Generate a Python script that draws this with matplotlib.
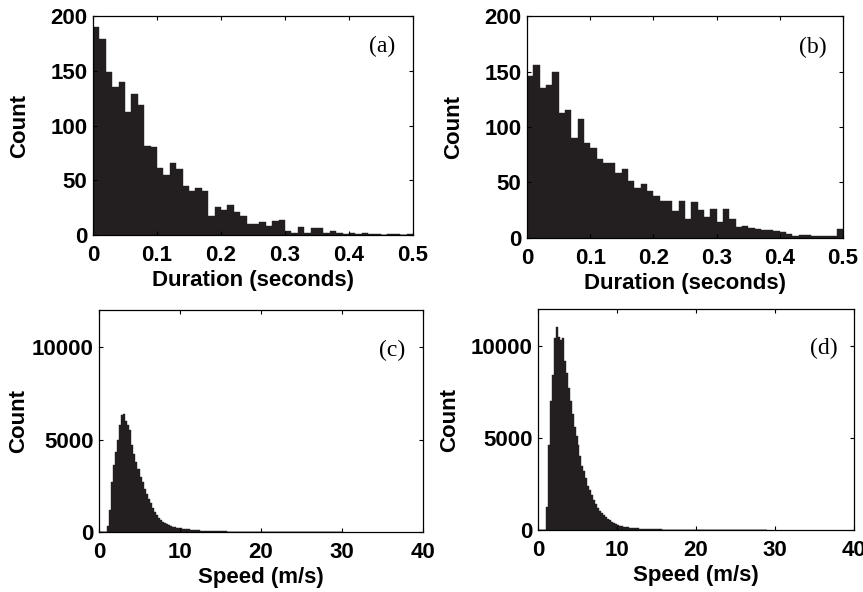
import numpy as np
import matplotlib.pyplot as plt

# histogram counts
dur_edges = np.linspace(0, 0.5, 51)   # 0.01 s bins
a_counts = [190, 179, 149, 135, 140, 112, 129, 119, 81, 80,
            61, 55, 66, 60, 45, 40, 43, 40, 17, 26,
            23, 27, 21, 17, 10, 10, 12, 8, 13, 14,
            4, 2, 7, 2, 6, 6, 2, 4, 2, 1,
            2, 1, 2, 1, 1, 0, 1, 1, 0, 1]
b_counts = [146, 156, 135, 138, 150, 113, 115, 90, 107, 86,
            81, 71, 68, 68, 59, 62, 51, 45, 49, 42,
            38, 33, 33, 24, 33, 17, 32, 25, 19, 26,
            14, 26, 17, 10, 11, 9, 8, 7, 7, 6,
            5, 4, 2, 3, 3, 2, 2, 2, 1.5, 8]

# speed histograms, 0.25 m/s bins starting at 0
c_counts = [0, 0, 0, 0,
            300, 1200, 2700, 3600, 4300, 5000, 5800, 6300,
            6400, 6000, 5800, 5500, 4700, 4200, 3800, 3400,
            3000, 2700, 2350, 2050, 1800, 1550, 1300, 1100,
            920, 780, 650, 560, 480, 420, 370, 330,
            290, 260, 240, 220, 200, 180, 165, 150,
            140, 125, 115, 105, 95, 88, 80, 74,
            68, 62, 57, 52, 48, 44, 40, 37,
            34, 31, 29, 27, 25, 23, 21, 20,
            18, 17, 16, 15, 14, 13, 12, 11,
            10, 10, 9, 9, 8, 8, 7, 7,
            6, 6, 6, 5, 5, 5, 4, 4,
            4, 4, 3, 3, 3, 3, 2, 2,
            2, 2, 2, 2, 1, 1, 1, 1,
            1, 1, 1, 1, 1, 1, 0, 1,
            0, 1, 0, 0]
d_counts = [0, 0, 0, 0,
            1250, 4600, 7000, 8400, 10400, 11000, 10500, 10300,
            10400, 9200, 8500, 7700, 7000, 6300, 5600, 5100,
            4600, 4000, 3500, 3200, 2800, 2400, 2150, 1900,
            1650, 1400, 1200, 1050, 930, 820, 700, 620,
            520, 450, 380, 320, 280, 240, 210, 185,
            165, 145, 130, 118, 106, 96, 87, 80,
            72, 66, 60, 55, 50, 46, 42, 38,
            35, 32, 29, 27, 25, 23, 21, 19,
            17, 16, 15, 14, 13, 12, 11, 10,
            9, 9, 8, 8, 7, 7, 6, 6,
            5, 5, 5, 4, 4, 4, 3, 3,
            3, 3, 3, 2, 2, 2, 2, 2,
            1, 1, 1, 1, 1, 1, 1, 1,
            1, 1, 0, 1, 0, 1, 0, 0]

dur_ticks = [0, 0.1, 0.2, 0.3, 0.4, 0.5]
dur_labels = ['0', '0.1', '0.2', '0.3', '0.4', '0.5']
speed_ticks = [0, 10, 20, 30, 40]

BAR = '#231f20'
SANS = 'Liberation Sans'
FS = 16

W, H = 863, 592
fig = plt.figure(figsize=(W / 100, H / 100), dpi=100)


def px_axes(l, r, t, b):
    return fig.add_axes([l / W, 1 - b / H, (r - l) / W, (b - t) / H])


def style(ax):
    ax.tick_params(direction='in', length=3, width=0.8, top=True, right=True,
                   labelsize=FS)
    ax.tick_params(axis='x', pad=7)
    ax.tick_params(axis='y', pad=4)
    for lab in ax.get_xticklabels() + ax.get_yticklabels():
        lab.set_fontfamily(SANS)
        lab.set_fontweight('bold')
    for s in ax.spines.values():
        s.set_linewidth(0.9)


panels = [
    # counts, edges, box (l, r, t, b), ylim, yticks, letter, letter y, ylabel x
    (a_counts, dur_edges, (93, 413, 16, 235), 200, [0, 50, 100, 150, 200], '(a)', 0.86, -0.197),
    (b_counts, dur_edges, (527, 843, 16, 238), 200, [0, 50, 100, 150, 200], '(b)', 0.86, -0.200),
    (c_counts, np.arange(len(c_counts) + 1) * 0.25, (99, 423, 310, 532), 12000, [0, 5000, 10000], '(c)', 0.82, -0.215),
    (d_counts, np.arange(len(d_counts) + 1) * 0.25, (538, 854, 309, 530), 12000, [0, 5000, 10000], '(d)', 0.82, -0.245),
]

for i, (counts, edges, box, ymax, yticks, letter, ly, ylx) in enumerate(panels):
    ax = px_axes(*box)
    ax.hist(edges[:-1], bins=edges, weights=counts, color=BAR, edgecolor=BAR,
            linewidth=0.3, histtype='stepfilled')
    ax.set_ylim(0, ymax)
    ax.set_yticks(yticks)
    ax.set_yticklabels([str(v) for v in yticks])
    if i < 2:
        ax.set_xlim(0, 0.5)
        ax.set_xticks(dur_ticks)
        ax.set_xticklabels(dur_labels)
        ax.set_xlabel('Duration (seconds)', fontsize=FS, fontweight='bold',
                      family=SANS, labelpad=3)
    else:
        ax.set_xlim(0, 40)
        ax.set_xticks(speed_ticks)
        ax.set_xticklabels([str(v) for v in speed_ticks])
        ax.set_xlabel('Speed (m/s)', fontsize=FS, fontweight='bold',
                      family=SANS, labelpad=3)
    ax.set_ylabel('Count', fontsize=FS, fontweight='bold', family=SANS)
    ax.yaxis.set_label_coords(ylx, 0.5)
    style(ax)
    ax.text(0.905, ly, letter, transform=ax.transAxes, ha='center',
            va='center', fontsize=17, family='Liberation Serif')

fig.savefig('out.png', dpi=100)
